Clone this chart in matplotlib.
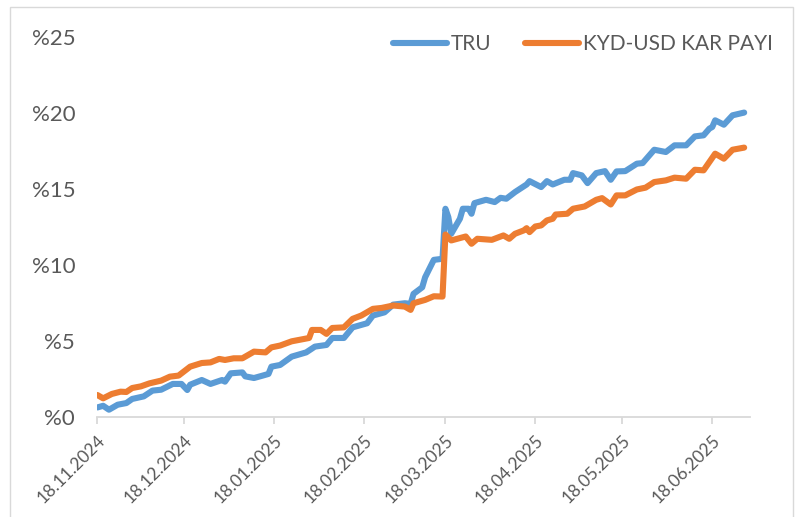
''' TRU vs KYD-USD kar payi chart '''
import numpy as np
import matplotlib.pyplot as plt
import matplotlib.dates as mdates
from matplotlib.patches import Rectangle

plt.rcParams['font.family'] = ['Lato', 'DejaVu Sans']

tru_dates = [
    '2024-11-18', '2024-11-20', '2024-11-22', '2024-11-25', '2024-11-28', '2024-11-30',
    '2024-12-04', '2024-12-07', '2024-12-10', '2024-12-14', '2024-12-17', '2024-12-19',
    '2024-12-20', '2024-12-24', '2024-12-27', '2024-12-31', '2025-01-01', '2025-01-03',
    '2025-01-07', '2025-01-08', '2025-01-11', '2025-01-14', '2025-01-16', '2025-01-17',
    '2025-01-20', '2025-01-24', '2025-01-29', '2025-02-01', '2025-02-05', '2025-02-07',
    '2025-02-11', '2025-02-14', '2025-02-19', '2025-02-21', '2025-02-25', '2025-02-28',
    '2025-03-04', '2025-03-06', '2025-03-07', '2025-03-10', '2025-03-11', '2025-03-14',
    '2025-03-17', '2025-03-18', '2025-03-19', '2025-03-20', '2025-03-23', '2025-03-24',
    '2025-03-26', '2025-03-27', '2025-03-28', '2025-04-01', '2025-04-04', '2025-04-06',
    '2025-04-08', '2025-04-11', '2025-04-15', '2025-04-16', '2025-04-20', '2025-04-22',
    '2025-04-24', '2025-04-28', '2025-04-30', '2025-05-01', '2025-05-04', '2025-05-06',
    '2025-05-09', '2025-05-12', '2025-05-14', '2025-05-16', '2025-05-19', '2025-05-23',
    '2025-05-25', '2025-05-29', '2025-06-02', '2025-06-05', '2025-06-09', '2025-06-12',
    '2025-06-15', '2025-06-17', '2025-06-18', '2025-06-19', '2025-06-22', '2025-06-25',
    '2025-06-29',
]
tru = [
    0.61, 0.72, 0.46, 0.79, 0.90, 1.17,
    1.34, 1.72, 1.78, 2.16, 2.16, 1.76,
    2.11, 2.42, 2.16, 2.42, 2.31, 2.86,
    2.92, 2.66, 2.55, 2.71, 2.82, 3.30,
    3.41, 3.96, 4.24, 4.62, 4.73, 5.19,
    5.19, 5.89, 6.16, 6.67, 6.88, 7.39,
    7.48, 7.44, 8.10, 8.53, 9.19, 10.34,
    10.41, 13.71, 13.16, 12.06, 13.05, 13.71,
    13.71, 13.38, 14.08, 14.30, 14.15, 14.43,
    14.37, 14.81, 15.31, 15.53, 15.14, 15.53,
    15.31, 15.62, 15.62, 16.06, 15.91, 15.40,
    16.06, 16.19, 15.62, 16.17, 16.19, 16.68,
    16.72, 17.60, 17.45, 17.89, 17.89, 18.48,
    18.55, 18.99, 19.10, 19.54, 19.25, 19.87,
    20.05,
]

kyd_dates = [
    '2024-11-18', '2024-11-20', '2024-11-23', '2024-11-26', '2024-11-28', '2024-11-30',
    '2024-12-03', '2024-12-06', '2024-12-10', '2024-12-13', '2024-12-16', '2024-12-20',
    '2024-12-24', '2024-12-27', '2024-12-30', '2025-01-01', '2025-01-04', '2025-01-07',
    '2025-01-08', '2025-01-11', '2025-01-15', '2025-01-17', '2025-01-20', '2025-01-24',
    '2025-01-30', '2025-01-31', '2025-02-03', '2025-02-05', '2025-02-07', '2025-02-11',
    '2025-02-14', '2025-02-17', '2025-02-21', '2025-02-24', '2025-02-28', '2025-03-04',
    '2025-03-06', '2025-03-07', '2025-03-11', '2025-03-14', '2025-03-17', '2025-03-18',
    '2025-03-20', '2025-03-25', '2025-03-27', '2025-03-29', '2025-04-03', '2025-04-07',
    '2025-04-09', '2025-04-11', '2025-04-14', '2025-04-15', '2025-04-16', '2025-04-18',
    '2025-04-20', '2025-04-22', '2025-04-24', '2025-04-25', '2025-04-29', '2025-05-01',
    '2025-05-05', '2025-05-09', '2025-05-11', '2025-05-14', '2025-05-16', '2025-05-19',
    '2025-05-23', '2025-05-26', '2025-05-29', '2025-06-02', '2025-06-05', '2025-06-09',
    '2025-06-12', '2025-06-15', '2025-06-19', '2025-06-22', '2025-06-25', '2025-06-29',
]
kyd = [
    1.43, 1.21, 1.50, 1.65, 1.63, 1.89,
    2.00, 2.20, 2.38, 2.64, 2.71, 3.30,
    3.54, 3.58, 3.81, 3.74, 3.85, 3.85,
    3.96, 4.29, 4.24, 4.57, 4.69, 4.97,
    5.19, 5.72, 5.72, 5.46, 5.85, 5.89,
    6.45, 6.67, 7.11, 7.17, 7.33, 7.26,
    7.04, 7.48, 7.70, 7.94, 7.92, 12.01,
    11.62, 11.88, 11.40, 11.73, 11.66, 11.95,
    11.73, 12.06, 12.28, 12.43, 12.17, 12.54,
    12.61, 12.94, 13.05, 13.33, 13.38, 13.71,
    13.86, 14.30, 14.41, 13.99, 14.59, 14.59,
    14.98, 15.10, 15.47, 15.58, 15.76, 15.69,
    16.28, 16.24, 17.34, 17.01, 17.60, 17.74,
]

tick_dates = ['2024-11-18', '2024-12-18', '2025-01-18', '2025-02-18',
              '2025-03-18', '2025-04-18', '2025-05-18', '2025-06-18']
y_ticks = [0, 5, 10, 15, 20, 25]

gray = '#595959'

fig = plt.figure(figsize=(8.04, 5.17), dpi=100)
ax = fig.add_axes([0.1211, 0.194, 0.8117, 0.7335])

ax.plot(np.array(tru_dates, dtype='datetime64[D]'), tru, color='#5B9BD5', lw=4.4,
        solid_capstyle='round', solid_joinstyle='round', label='TRU')
ax.plot(np.array(kyd_dates, dtype='datetime64[D]'), kyd, color='#ED7D31', lw=4.4,
        solid_capstyle='round', solid_joinstyle='round', label='KYD-USD KAR PAYI')

ax.set_xlim(np.datetime64('2024-11-18'), np.datetime64('2025-07-01'))
ax.set_ylim(0, 25)

ax.set_xticks(np.array(tick_dates, dtype='datetime64[D]'))
ax.xaxis.set_major_formatter(mdates.DateFormatter('%d.%m.%Y'))
ax.set_yticks(y_ticks)
ax.set_yticklabels(['%' + str(v) for v in y_ticks])

for s in ['top', 'right', 'left']:
    ax.spines[s].set_visible(False)
ax.spines['bottom'].set_color('#D9D9D9')
ax.spines['bottom'].set_linewidth(1.3)

ax.tick_params(axis='x', length=5, width=1.3, color='#D9D9D9', pad=6,
               labelsize=12.5, labelcolor=gray)
ax.tick_params(axis='y', length=0, pad=16, labelsize=16, labelcolor=gray)
for lab in ax.get_xticklabels():
    lab.set_rotation(45)
    lab.set_ha('right')
    lab.set_va('top')
    lab.set_rotation_mode('anchor')

fig.legend(loc='center right', bbox_to_anchor=(792 / 804, 1 - 44 / 517),
           frameon=False, fontsize=15, labelcolor=gray, ncol=2,
           handlelength=2.6, handletextpad=0.2, columnspacing=1.6)

# outer chart frame
fig.patches.append(Rectangle((10 / 804, -0.05), 783 / 804, 1.05 - 7 / 517,
                             transform=fig.transFigure, fill=False,
                             edgecolor='#D9D9D9', lw=1.0))

fig.savefig('out.png', dpi=100)
